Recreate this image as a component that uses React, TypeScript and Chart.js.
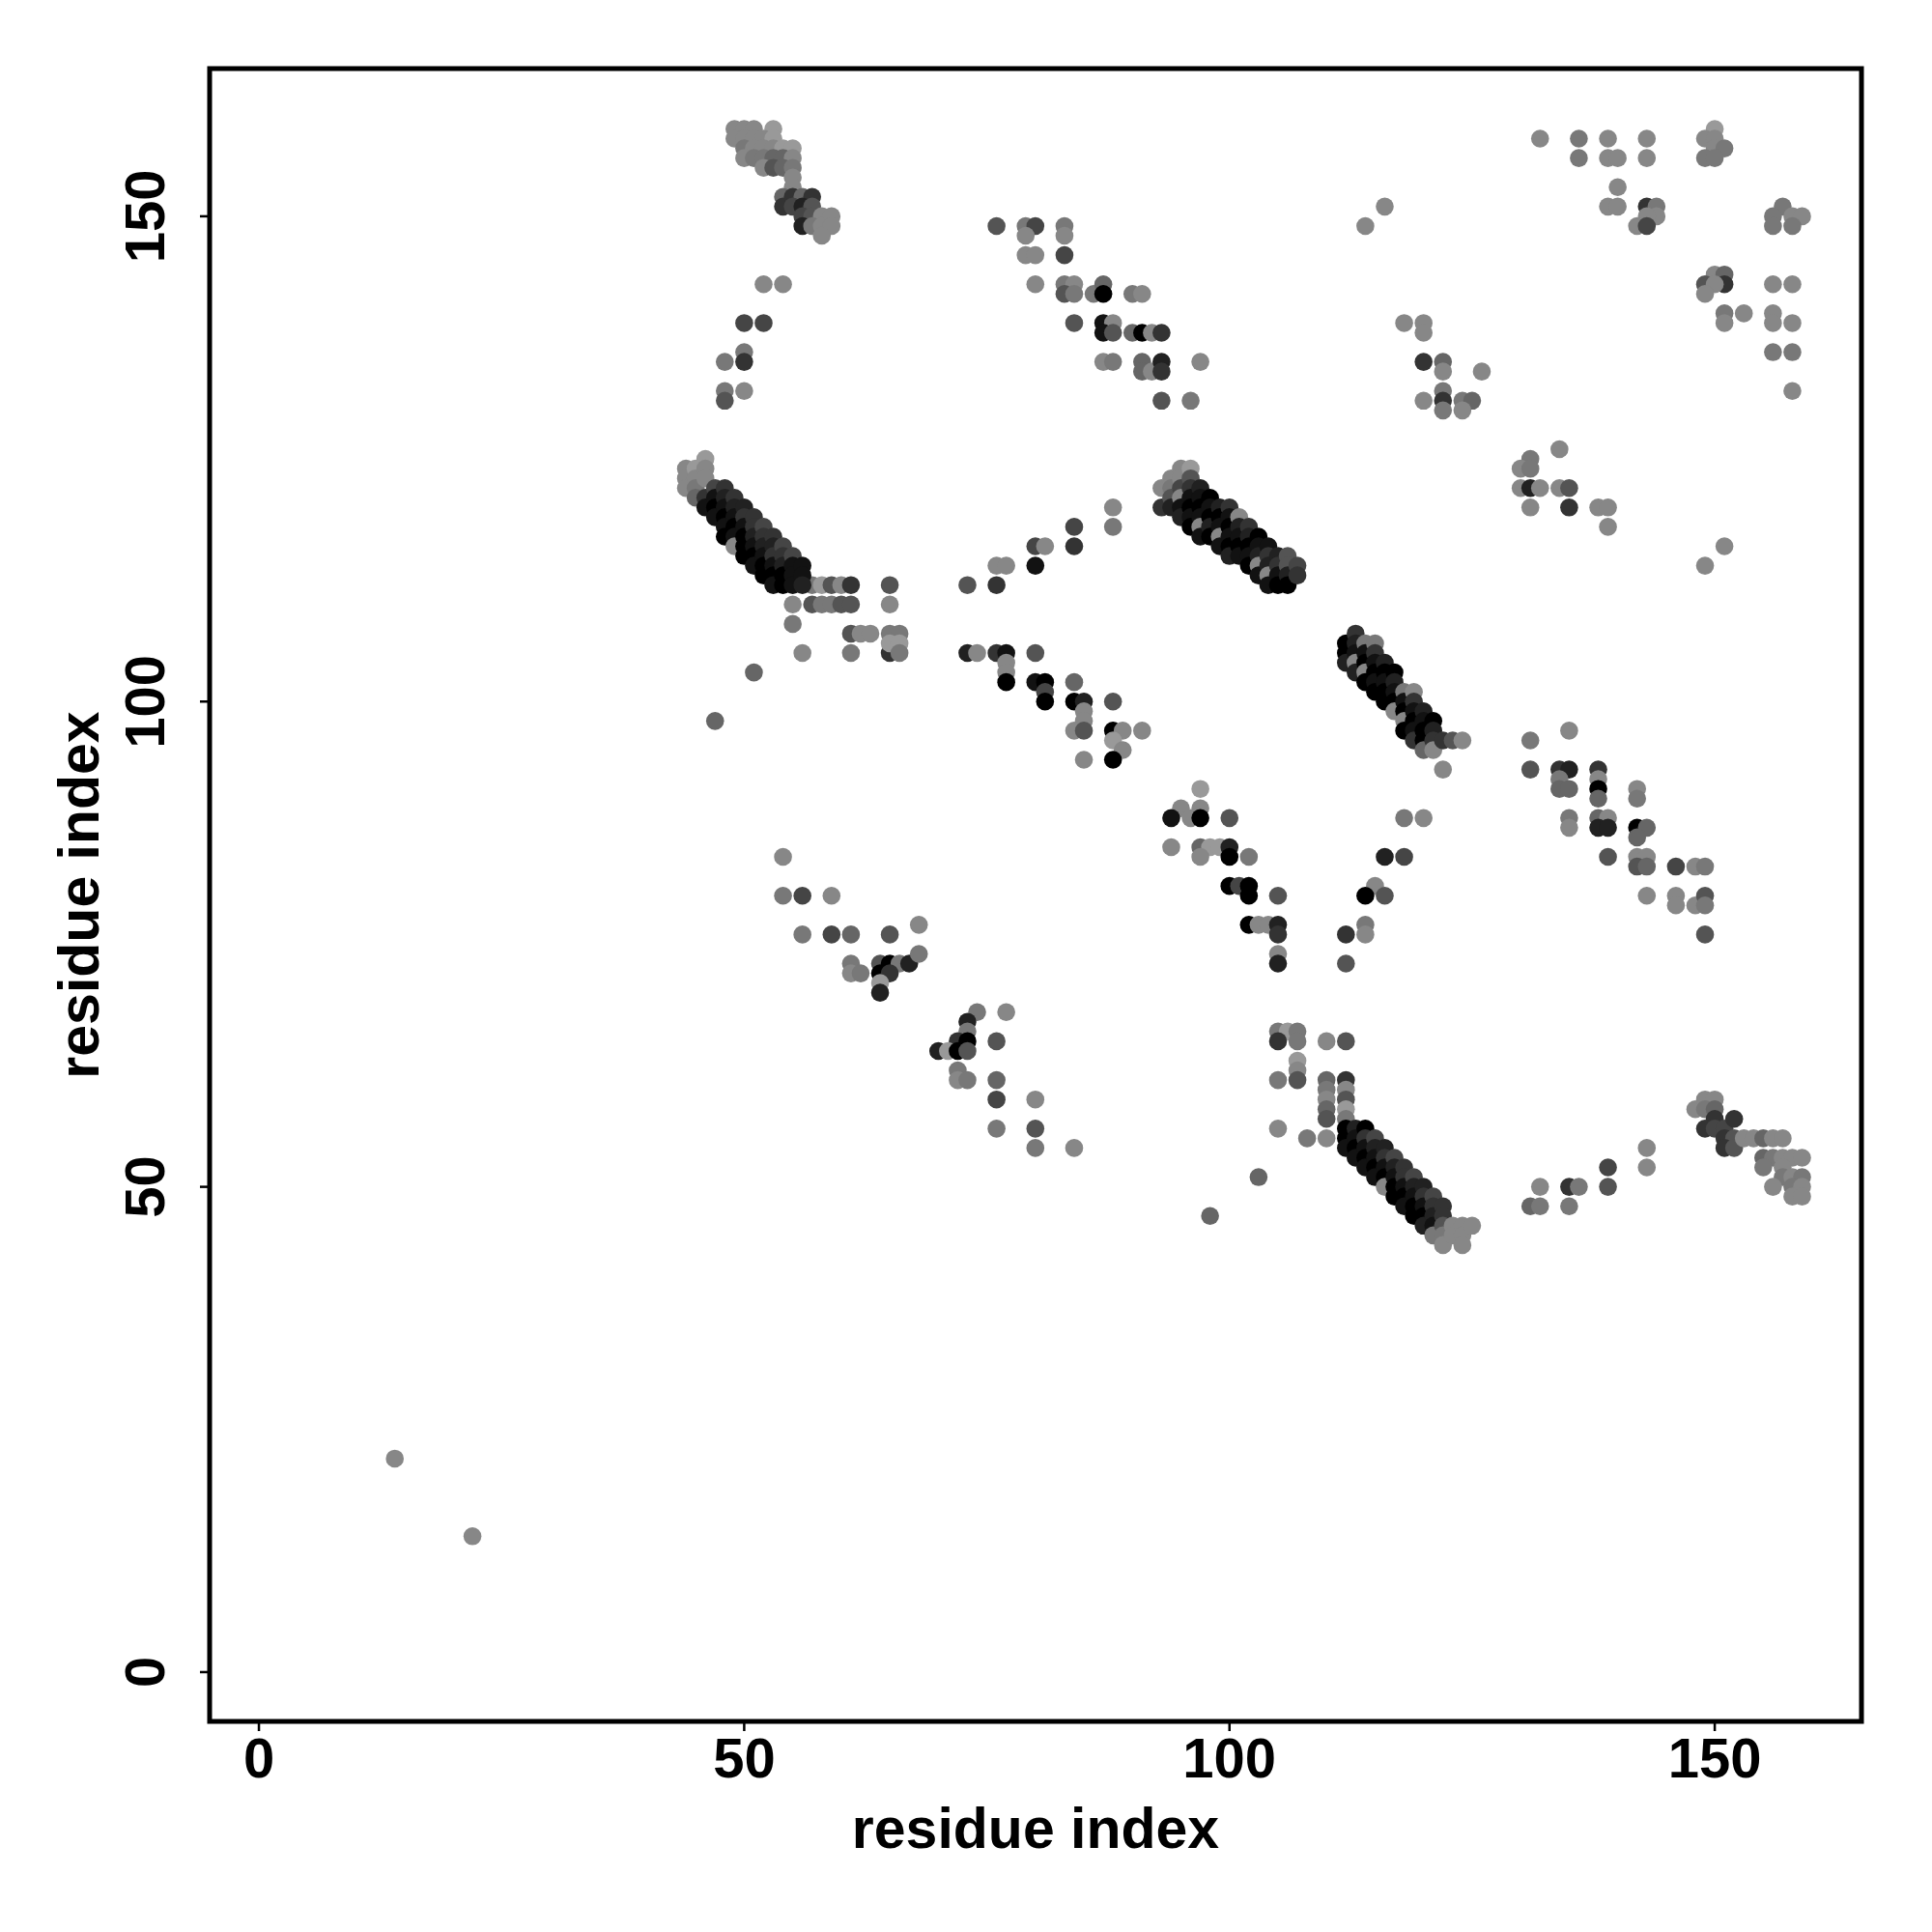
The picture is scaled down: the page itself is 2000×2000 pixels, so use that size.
import React, { useEffect, useRef } from "react";
import { Chart, registerables } from "chart.js";

Chart.register(...registerables);

// Axis limits and ticks
const X_MIN = -5.08;
const X_MAX = 165.12;
const Y_MIN = -5.08;
const Y_MAX = 165.22;
const xTicks = [0, 50, 100, 150];
const yTicks = [0, 50, 100, 150];
const xTitle = "residue index";
const yTitle = "residue index";

// [residue i, residue j, contact probability]
type Contact = [number, number, number];

const isolatedContacts: Contact[] = [
  [14, 22, 0.47], [22, 14, 0.47],
];

const topCluster: Contact[] = [
  [49, 159, 0.47], [50, 159, 0.47], [51, 159, 0.47], [53, 159, 0.4],
  [49, 158, 0.47], [50, 158, 0.47], [51, 158, 0.47], [52, 158, 0.47], [53, 158, 0.4],
  [50, 157, 0.53], [51, 157, 0.47], [52, 157, 0.47], [53, 157, 0.47], [54, 157, 0.4], [55, 157, 0.4],
  [50, 156, 0.47], [51, 156, 0.53], [52, 156, 0.53], [53, 156, 0.6], [54, 156, 0.6], [55, 156, 0.47],
  [52, 155, 0.47], [53, 155, 0.67], [54, 155, 0.6], [55, 155, 0.53],
  [55, 154, 0.47], [55, 153, 0.47],
  [54, 152, 0.6], [55, 152, 0.8], [56, 152, 0.6], [57, 152, 0.8],
  [54, 151, 0.8], [55, 151, 0.73], [56, 151, 0.87], [57, 151, 0.67],
  [56, 150, 0.73], [57, 150, 0.67], [58, 150, 0.47], [59, 150, 0.47],
  [56, 149, 0.87], [57, 149, 0.53], [58, 149, 0.47], [59, 149, 0.47],
  [58, 148, 0.47],
];

const leftArc: Contact[] = [
  [52, 143, 0.47], [54, 143, 0.47], [50, 139, 0.73], [52, 139, 0.73],
  [50, 136, 0.53], [48, 135, 0.53], [50, 135, 0.8], [48, 132, 0.53], [48, 131, 0.67], [50, 132, 0.47],
];

const upperMiddle: Contact[] = [
  [76, 149, 0.67], [79, 149, 0.53], [80, 149, 0.73], [79, 148, 0.47], [79, 146, 0.47], [80, 146, 0.47], [80, 143, 0.47],
  [83, 149, 0.53], [83, 148, 0.47], [83, 146, 0.73],
  [83, 143, 0.53], [84, 143, 0.47], [83, 142, 0.67], [84, 142, 0.53], [86, 142, 0.53], [87, 143, 0.6], [87, 142, 1.0], [90, 142, 0.53], [91, 142, 0.47],
  [84, 139, 0.67], [87, 139, 0.93], [88, 139, 0.47], [87, 138, 0.93], [88, 138, 0.67], [90, 138, 0.6], [91, 138, 1.0], [92, 138, 0.47], [93, 138, 0.8],
  [87, 135, 0.47], [88, 135, 0.53], [91, 135, 0.6], [91, 134, 0.6], [92, 134, 0.47], [93, 135, 0.87], [93, 134, 0.8], [97, 135, 0.47],
  [93, 131, 0.67], [96, 131, 0.53],
];

const upperRight: Contact[] = [
  [116, 151, 0.47], [114, 149, 0.47],
  [118, 139, 0.47], [120, 139, 0.47], [120, 138, 0.47],
  [120, 135, 0.8], [122, 135, 0.6], [122, 134, 0.47], [126, 134, 0.47],
  [120, 131, 0.47], [122, 132, 0.53], [122, 131, 0.8], [122, 130, 0.53], [124, 131, 0.53], [125, 131, 0.6], [124, 130, 0.47],
  [132, 158, 0.47], [136, 158, 0.53], [136, 156, 0.53], [139, 158, 0.47], [139, 156, 0.47], [140, 156, 0.47], [143, 158, 0.47], [143, 156, 0.47],
  [150, 159, 0.4], [149, 158, 0.47], [150, 158, 0.47], [150, 157, 0.47], [151, 157, 0.53], [149, 156, 0.53], [150, 156, 0.53],
  [140, 153, 0.47], [139, 151, 0.47], [140, 151, 0.47],
  [143, 151, 0.8], [144, 151, 0.53], [144, 150, 0.47], [143, 150, 0.47], [142, 149, 0.47], [143, 149, 0.73],
  [157, 151, 0.53], [156, 150, 0.53], [156, 149, 0.53], [158, 150, 0.47], [159, 150, 0.47], [158, 149, 0.53],
  [150, 144, 0.47], [151, 144, 0.6], [149, 143, 0.67], [151, 143, 0.8], [150, 143, 0.47], [149, 142, 0.47],
  [151, 140, 0.53], [151, 139, 0.47], [153, 140, 0.47],
  [156, 143, 0.47], [158, 143, 0.47], [156, 140, 0.47], [156, 139, 0.47], [158, 139, 0.47], [156, 136, 0.53], [158, 136, 0.53], [158, 132, 0.47],
];

const rightMiddle: Contact[] = [
  [134, 126, 0.47], [131, 125, 0.53], [130, 124, 0.47], [131, 124, 0.53], [130, 122, 0.47], [131, 122, 0.87], [132, 122, 0.47],
  [134, 122, 0.47], [135, 122, 0.67], [131, 120, 0.47], [135, 120, 0.8], [138, 120, 0.47], [139, 120, 0.47], [139, 118, 0.47],
  [151, 116, 0.47], [149, 114, 0.47],
];

const band1: Contact[] = [
  [44, 124, 0.47], [44, 123, 0.47], [44, 122, 0.47],
  [45, 124, 0.4], [45, 123, 0.47], [45, 122, 0.53], [45, 121, 0.6],
  [46, 125, 0.4], [46, 124, 0.47], [46, 123, 0.47], [46, 121, 0.8], [46, 120, 0.93],
  [47, 122, 0.73], [47, 121, 0.93], [47, 120, 1.0], [47, 119, 0.93],
  [48, 122, 0.8], [48, 121, 0.87], [48, 120, 0.93], [48, 119, 1.0], [48, 118, 0.93], [48, 117, 1.0],
  [49, 121, 0.8], [49, 120, 0.87], [49, 119, 0.93], [49, 118, 1.0], [49, 117, 0.93], [49, 116, 0.47],
  [50, 120, 0.87], [50, 119, 0.8], [50, 118, 0.93], [50, 117, 1.0], [50, 116, 1.0], [50, 115, 1.0],
  [51, 119, 0.8], [51, 118, 0.8], [51, 117, 0.87], [51, 116, 0.93], [51, 115, 1.0], [51, 114, 0.93],
  [52, 118, 0.73], [52, 117, 0.8], [52, 116, 0.87], [52, 115, 0.93], [52, 114, 1.0], [52, 113, 1.0],
  [53, 117, 0.8], [53, 116, 0.87], [53, 115, 0.8], [53, 114, 0.93], [53, 113, 1.0], [53, 112, 0.93],
  [54, 116, 0.73], [54, 115, 0.8], [54, 114, 0.87], [54, 113, 1.0], [54, 112, 1.0],
  [55, 115, 0.73], [55, 114, 0.93], [55, 113, 0.93], [55, 112, 0.93],
  [56, 114, 0.93], [56, 113, 0.93], [56, 112, 0.87],
];

const band2: Contact[] = [
  [93, 122, 0.47], [93, 120, 0.8],
  [94, 123, 0.47], [94, 122, 0.53], [94, 121, 0.67], [94, 120, 0.87],
  [95, 124, 0.47], [95, 123, 0.47], [95, 122, 0.73], [95, 121, 0.47], [95, 120, 0.93], [95, 119, 0.87],
  [96, 124, 0.4], [96, 123, 0.67], [96, 122, 0.8], [96, 121, 0.93], [96, 120, 1.0], [96, 119, 0.93], [96, 118, 1.0],
  [97, 122, 0.87], [97, 121, 0.93], [97, 120, 1.0], [97, 119, 0.93], [97, 118, 0.47], [97, 117, 0.93],
  [98, 121, 1.0], [98, 120, 0.93], [98, 119, 1.0], [98, 118, 0.87], [98, 117, 1.0],
  [99, 120, 0.87], [99, 119, 1.0], [99, 118, 0.93], [99, 117, 0.47], [99, 116, 0.93],
  [100, 120, 0.8], [100, 119, 0.93], [100, 118, 1.0], [100, 117, 0.93], [100, 116, 1.0], [100, 115, 0.87],
  [101, 119, 0.47], [101, 118, 0.87], [101, 117, 0.93], [101, 116, 1.0], [101, 115, 0.93],
  [102, 118, 0.8], [102, 117, 0.87], [102, 116, 1.0], [102, 115, 0.93], [102, 114, 1.0],
  [103, 117, 1.0], [103, 116, 0.93], [103, 115, 0.87], [103, 114, 0.47], [103, 113, 0.93],
  [104, 116, 0.93], [104, 115, 0.8], [104, 114, 0.87], [104, 113, 0.47], [104, 112, 0.93],
  [105, 115, 0.87], [105, 114, 0.8], [105, 113, 0.93], [105, 112, 1.0],
  [106, 115, 0.67], [106, 114, 0.67], [106, 113, 0.87], [106, 112, 1.0],
  [107, 114, 0.73], [107, 113, 0.8],
];

const band3: Contact[] = [
  [112, 106, 1.0], [112, 105, 1.0], [112, 104, 0.87],
  [113, 107, 0.8], [113, 106, 0.87], [113, 105, 0.93], [113, 104, 0.47], [113, 103, 0.87],
  [114, 106, 0.53], [114, 105, 0.93], [114, 104, 1.0], [114, 103, 0.47], [114, 102, 1.0],
  [115, 106, 0.53], [115, 105, 0.8], [115, 104, 0.93], [115, 103, 1.0], [115, 102, 0.93], [115, 101, 1.0],
  [116, 104, 0.87], [116, 103, 1.0], [116, 102, 0.93], [116, 101, 1.0], [116, 100, 1.0],
  [117, 103, 1.0], [117, 102, 0.87], [117, 101, 0.93], [117, 100, 1.0], [117, 99, 0.47],
  [118, 101, 0.53], [118, 100, 0.93], [118, 99, 1.0], [118, 98, 0.47], [118, 97, 1.0],
  [119, 101, 0.47], [119, 100, 0.8], [119, 99, 0.93], [119, 98, 1.0], [119, 97, 0.93], [119, 96, 0.8],
  [120, 99, 0.87], [120, 98, 0.93], [120, 97, 1.0], [120, 96, 1.0], [120, 95, 0.6],
  [121, 98, 1.0], [121, 97, 0.87], [121, 96, 0.8], [121, 95, 0.47],
  [122, 96, 0.8], [123, 96, 0.67], [124, 96, 0.47],
];

const band4: Contact[] = [
  [112, 56, 1.0], [112, 55, 1.0], [112, 54, 0.93],
  [113, 56, 0.87], [113, 55, 0.93], [113, 54, 1.0], [113, 53, 0.93],
  [114, 56, 1.0], [114, 55, 0.8], [114, 54, 0.93], [114, 53, 1.0], [114, 52, 0.93],
  [115, 55, 0.73], [115, 54, 0.87], [115, 53, 0.93], [115, 52, 1.0], [115, 51, 0.93],
  [116, 54, 0.87], [116, 53, 0.8], [116, 52, 0.93], [116, 51, 1.0], [116, 50, 0.47],
  [117, 53, 0.73], [117, 52, 0.87], [117, 51, 0.93], [117, 50, 1.0], [117, 49, 1.0],
  [118, 52, 0.8], [118, 51, 0.8], [118, 50, 0.93], [118, 49, 1.0], [118, 48, 0.93],
  [119, 51, 0.73], [119, 50, 0.87], [119, 49, 0.93], [119, 48, 1.0], [119, 47, 1.0],
  [120, 50, 0.87], [120, 49, 0.8], [120, 48, 0.93], [120, 47, 1.0], [120, 46, 0.87],
  [121, 49, 0.73], [121, 48, 0.8], [121, 47, 0.87], [121, 46, 0.93], [121, 45, 0.53],
  [122, 48, 0.8], [122, 47, 0.8], [122, 46, 0.67], [122, 45, 0.53], [122, 44, 0.47],
  [123, 46, 0.47], [123, 45, 0.47],
  [124, 46, 0.47], [124, 45, 0.47], [124, 44, 0.47],
  [125, 46, 0.47],
];

const middleLeft: Contact[] = [
  [57, 112, 0.53], [58, 112, 0.4], [59, 112, 0.67], [60, 112, 0.47], [61, 112, 0.8], [65, 112, 0.67],
  [55, 110, 0.47], [57, 110, 0.67], [58, 110, 0.53], [59, 110, 0.53], [60, 110, 0.67], [61, 110, 0.67], [65, 110, 0.47],
  [55, 108, 0.53],
  [61, 107, 0.67], [62, 107, 0.47], [63, 107, 0.47], [65, 105, 0.8], [65, 107, 0.53], [66, 107, 0.53],
  [65, 106, 0.4], [66, 106, 0.4],
  [56, 105, 0.47], [61, 105, 0.53], [66, 105, 0.53],
  [51, 103, 0.6], [47, 98, 0.6],
];

const middleCentre: Contact[] = [
  [80, 116, 0.73], [76, 114, 0.47], [77, 114, 0.47], [80, 114, 0.93], [73, 112, 0.67], [76, 112, 0.8],
  [84, 118, 0.73], [88, 118, 0.53], [88, 120, 0.47], [81, 116, 0.47], [84, 116, 0.8],
  [73, 105, 0.87], [74, 105, 0.47], [76, 105, 0.8], [77, 105, 0.93], [80, 105, 0.67], [77, 104, 0.47], [77, 103, 0.47], [77, 102, 1.0],
  [80, 102, 0.93], [81, 102, 1.0], [81, 101, 0.73], [81, 100, 1.0],
  [84, 102, 0.6], [84, 100, 1.0], [85, 100, 0.87], [85, 99, 0.47], [85, 98, 0.47], [84, 97, 0.47], [85, 97, 0.67], [88, 100, 0.67],
  [88, 97, 1.0], [89, 97, 0.47], [91, 97, 0.47], [88, 96, 0.4], [89, 95, 0.47], [88, 94, 1.0], [85, 94, 0.47],
];

const centreLower: Contact[] = [
  [97, 91, 0.4], [95, 89, 0.47], [97, 89, 0.47], [94, 88, 0.93], [96, 88, 0.47], [97, 88, 1.0], [100, 88, 0.67],
  [94, 85, 0.47], [97, 85, 0.6], [98, 85, 0.4], [99, 85, 0.4], [100, 85, 0.87], [97, 84, 0.47], [100, 84, 1.0], [102, 84, 0.53],
  [100, 81, 1.0], [101, 81, 0.73], [102, 81, 1.0], [102, 80, 1.0], [105, 80, 0.67],
  [102, 77, 1.0], [103, 77, 0.47], [104, 77, 0.47], [105, 77, 0.87], [105, 76, 0.8], [105, 74, 0.47], [105, 73, 0.87],
  [118, 88, 0.53], [120, 88, 0.47], [116, 84, 0.87], [118, 84, 0.73], [115, 81, 0.47], [114, 80, 1.0], [116, 80, 0.67],
  [112, 76, 0.8], [114, 77, 0.53], [114, 76, 0.47], [112, 73, 0.67],
];

const rightLower: Contact[] = [
  [122, 93, 0.47], [131, 96, 0.53], [135, 97, 0.47],
  [131, 93, 0.67], [134, 93, 0.8], [135, 93, 0.87], [134, 92, 0.53], [134, 91, 0.6], [135, 91, 0.6],
  [138, 93, 0.8], [138, 92, 0.47], [138, 91, 1.0], [138, 90, 0.6], [142, 91, 0.47], [142, 90, 0.53],
  [135, 88, 0.53], [135, 87, 0.47], [138, 88, 0.6], [139, 88, 0.47], [138, 87, 0.87], [139, 87, 0.87],
  [142, 87, 1.0], [143, 87, 0.6], [142, 86, 0.6], [139, 84, 0.67], [142, 84, 0.47], [143, 84, 0.47], [142, 83, 0.67], [143, 83, 0.6],
  [146, 83, 0.73], [148, 83, 0.47], [149, 83, 0.53], [143, 80, 0.47], [146, 80, 0.47], [146, 79, 0.47], [148, 79, 0.47],
  [149, 80, 0.67], [149, 79, 0.53], [149, 76, 0.67],
];

const lowerLeft: Contact[] = [
  [54, 84, 0.47], [54, 80, 0.53], [56, 80, 0.73], [59, 80, 0.47],
  [56, 76, 0.53], [59, 76, 0.73], [61, 76, 0.6], [65, 76, 0.67], [68, 77, 0.47],
  [61, 73, 0.53], [61, 72, 0.47], [62, 72, 0.53], [64, 73, 0.67], [65, 73, 1.0], [66, 73, 0.53], [67, 73, 0.87], [68, 74, 0.53],
  [64, 72, 1.0], [65, 72, 0.8], [64, 71, 0.4], [64, 70, 0.87],
  [74, 68, 0.53], [77, 68, 0.47], [73, 67, 0.87], [73, 66, 0.53], [72, 65, 0.8], [73, 65, 1.0], [70, 64, 0.87], [71, 64, 0.4],
  [72, 64, 1.0], [73, 64, 0.67], [76, 65, 0.67],
  [72, 62, 0.53], [72, 61, 0.47], [73, 61, 0.53], [76, 61, 0.6], [76, 59, 0.73], [80, 59, 0.47], [76, 56, 0.53], [80, 56, 0.67],
  [80, 54, 0.53], [84, 54, 0.47],
];

const lowerCentre: Contact[] = [
  [105, 66, 0.53], [106, 66, 0.4], [107, 66, 0.53], [105, 65, 0.8], [107, 65, 0.53], [110, 65, 0.47], [112, 65, 0.67],
  [107, 63, 0.4], [107, 62, 0.47], [105, 61, 0.53], [107, 61, 0.67],
  [110, 61, 0.6], [110, 60, 0.53], [110, 59, 0.47], [110, 58, 0.6], [110, 57, 0.67],
  [112, 61, 0.8], [112, 60, 0.47], [112, 59, 0.67], [112, 58, 0.4], [112, 57, 0.53],
  [105, 56, 0.47], [108, 55, 0.53], [110, 55, 0.47], [103, 51, 0.6], [98, 47, 0.6],
];

const lowerRight: Contact[] = [
  [132, 50, 0.47], [131, 48, 0.6], [132, 48, 0.53], [135, 50, 0.8], [136, 50, 0.53], [135, 48, 0.53],
  [139, 52, 0.73], [139, 50, 0.67], [143, 54, 0.47], [143, 52, 0.47],
  [148, 58, 0.47], [149, 59, 0.47], [150, 59, 0.47], [149, 58, 0.53], [150, 58, 0.6], [150, 57, 0.8],
  [149, 56, 0.8], [150, 56, 0.73], [151, 56, 0.73], [152, 57, 0.8], [151, 55, 0.8], [152, 55, 0.67], [151, 54, 0.8], [152, 54, 0.67],
  [153, 55, 0.47], [154, 55, 0.47], [155, 55, 0.6], [156, 55, 0.47], [157, 55, 0.47],
  [155, 53, 0.6], [156, 53, 0.53], [157, 53, 0.47], [158, 53, 0.47], [159, 53, 0.47],
  [155, 52, 0.53], [157, 52, 0.47], [157, 51, 0.53], [158, 51, 0.47], [159, 51, 0.53],
  [156, 50, 0.47], [158, 50, 0.53], [159, 50, 0.47], [158, 49, 0.47], [159, 49, 0.47],
];

const contactGroups: Contact[][] = [
  isolatedContacts, topCluster, leftArc, upperMiddle, upperRight, rightMiddle,
  middleLeft, middleCentre, centreLower, rightLower, lowerLeft, lowerCentre, lowerRight,
  band1, band2, band3, band4,
];

function shadeFor(p: number): string {
  const g = Math.round(255 * (1 - p));
  return `rgb(${g},${g},${g})`;
}

const FONT = '"Liberation Sans", Arimo, Arial, sans-serif';

const framePlugin = {
  id: "rframe",
  afterDraw(chart: any) {
    const { ctx, chartArea: a, scales } = chart;
    ctx.save();
    ctx.strokeStyle = "#000";
    ctx.fillStyle = "#000";
    ctx.lineWidth = 5;
    ctx.strokeRect(a.left, a.top, a.right - a.left, a.bottom - a.top);

    ctx.lineWidth = 2.5;
    ctx.font = `bold 58px ${FONT}`;
    for (const v of xTicks) {
      const px = scales.x.getPixelForValue(v);
      ctx.beginPath();
      ctx.moveTo(px, a.bottom);
      ctx.lineTo(px, a.bottom + 10);
      ctx.stroke();
      ctx.textAlign = "center";
      ctx.textBaseline = "alphabetic";
      ctx.fillText(String(v), px, 1840);
    }
    for (const v of yTicks) {
      const py = scales.y.getPixelForValue(v);
      ctx.beginPath();
      ctx.moveTo(a.left, py);
      ctx.lineTo(a.left - 10, py);
      ctx.stroke();
      ctx.save();
      ctx.translate(170, py);
      ctx.rotate(-Math.PI / 2);
      ctx.textAlign = "center";
      ctx.textBaseline = "alphabetic";
      ctx.fillText(String(v), 0, 0);
      ctx.restore();
    }
    ctx.font = `bold 59px ${FONT}`;
    ctx.textAlign = "center";
    ctx.textBaseline = "alphabetic";
    ctx.fillText(xTitle, (a.left + a.right) / 2, 1913);
    ctx.save();
    ctx.translate(102, (a.top + a.bottom) / 2);
    ctx.rotate(-Math.PI / 2);
    ctx.fillText(yTitle, 0, 0);
    ctx.restore();
    ctx.restore();
  },
};

export default function App() {
  const canvasRef = useRef<HTMLCanvasElement | null>(null);

  useEffect(() => {
    const canvas = canvasRef.current;
    if (!canvas) return;
    const points = contactGroups.flat();
    const chart = new Chart(canvas, {
      type: "scatter",
      data: {
        datasets: [
          {
            data: points.map(([x, y]) => ({ x, y })),
            backgroundColor: points.map(([, , p]) => shadeFor(p)),
            borderWidth: 0,
            pointRadius: 9.3,
            pointHoverRadius: 9.3,
          },
        ],
      },
      options: {
        responsive: false,
        devicePixelRatio: 1,
        animation: false,
        layout: { padding: { left: 217, right: 73, top: 71, bottom: 218 } },
        plugins: { legend: { display: false }, tooltip: { enabled: false } },
        events: [],
        scales: {
          x: { type: "linear", display: false, min: X_MIN, max: X_MAX },
          y: { type: "linear", display: false, min: Y_MIN, max: Y_MAX },
        },
      },
      plugins: [framePlugin],
    });
    return () => chart.destroy();
  }, []);

  return (
    <div style={{ position: "absolute", left: 0, top: 0, width: 2000, height: 2000, background: "#fff" }}>
      <canvas ref={canvasRef} width={2000} height={2000} style={{ width: 2000, height: 2000, display: "block" }} />
    </div>
  );
}
